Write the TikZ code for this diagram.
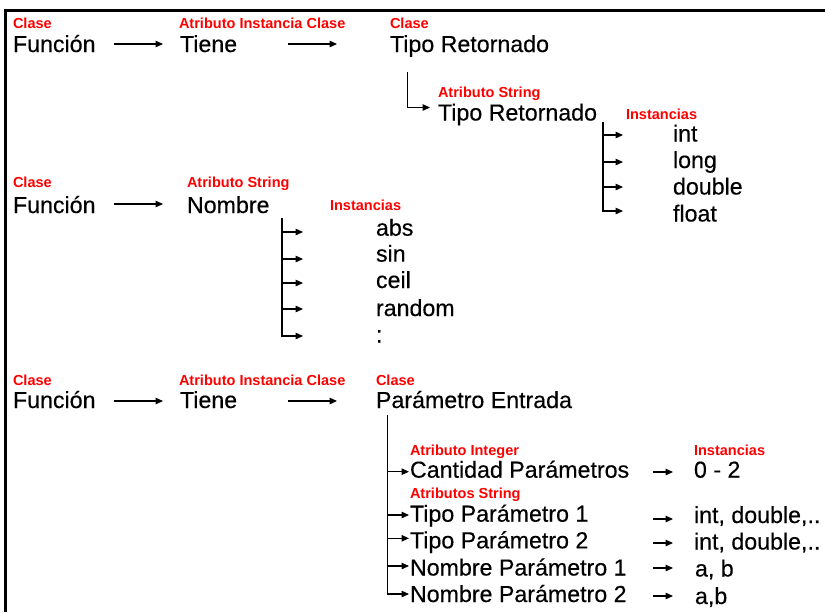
\documentclass[tikz,border=0pt]{standalone}
\usepackage{fontspec}
\setmainfont{Liberation Sans}
\newfontfamily\heavyfont[FakeBold=0.35]{Liberation Sans}
\usetikzlibrary{arrows.meta,calc}
\begin{document}
\begin{tikzpicture}[x=0.75pt,y=-0.75pt,
 lbl/.style={anchor=base west,inner sep=0,outer sep=0,text=red,font=\fontsize{10.9}{12}\selectfont\bfseries},
 txt/.style={anchor=base west,inner sep=0,outer sep=0,font=\heavyfont\fontsize{17.4}{20}\selectfont},
 arr/.style={line width=0.85pt,-{Triangle[length=5.5pt,width=4.8pt]}},
 frame/.style={line width=2pt}]
\useasboundingbox (0,0) rectangle (825,612);
\draw[frame] (825,10.3) -- (5.3,10.3) -- (5.3,612);

% ---------- Row 1
\node[lbl] (c1) at (13,28) {Clase};
\node[txt] (f1) at (13,52) {Función};
\node[lbl] (a1) at (179,28) {Atributo Instancia Clase};
\node[txt] (t1) at (180,52) {Tiene};
\node[lbl] (c2) at (390,28) {Clase};
\node[txt] (tr1) at (390,52) {Tipo Retornado};
\node[lbl] (as1) at (438,97) {Atributo String};
\node[txt] (tr2) at (438,120.5) {Tipo Retornado};
\node[lbl] (in1) at (626,119) {Instancias};
\node[txt] (i1) at (673,141.5) {int};
\node[txt] (i2) at (673,168) {long};
\node[txt] (i3) at (673,194.5) {double};
\node[txt] (i4) at (673,221.5) {float};

\draw[arr] ($(f1.base west)+(101,-8)$) -- ($(t1.base west)+(-17,-8)$);
\draw[arr] ($(t1.base west)+(108,-8)$) -- ($(tr1.base west)+(-53,-8)$);
\draw[arr] ($(tr1.base west)+(17.5,20)$) |- ($(tr2.base west)+(-8,-13)$);
\coordinate (k1) at ($(tr2.base west)+(165,1.5)$);
\draw[arr] (k1) |- ($(i1.base west)+(-50,-6.5)$);
\draw[arr] (k1) |- ($(i2.base west)+(-50,-6)$);
\draw[arr] (k1) |- ($(i3.base west)+(-50,-7.5)$);
\draw[arr] (k1) |- ($(i4.base west)+(-50,-10.5)$);

% ---------- Row 2
\node[lbl] (c3) at (13,187) {Clase};
\node[txt] (f2) at (13,213) {Función};
\node[lbl] (as2) at (187,187) {Atributo String};
\node[txt] (nom) at (187,213) {Nombre};
\node[lbl] (in2) at (330,210.5) {Instancias};
\node[txt] (n1) at (376,235.7) {abs};
\node[txt] (n2) at (376,261.7) {sin};
\node[txt] (n3) at (376,288) {ceil};
\node[txt] (n4) at (376,316) {random};
\node[txt] (n5) at (376,342.5) {:};

\draw[arr] ($(f2.base west)+(101,-9)$) -- ($(nom.base west)+(-24,-9)$);
\coordinate (k2) at ($(nom.base west)+(95,5)$);
\draw[arr] (k2) |- ($(n1.base west)+(-73,-3.7)$);
\draw[arr] (k2) |- ($(n2.base west)+(-73,-2.7)$);
\draw[arr] (k2) |- ($(n3.base west)+(-73,-5)$);
\draw[arr] (k2) |- ($(n4.base west)+(-73,-7)$);
\draw[arr] (k2) |- ($(n5.base west)+(-73,-6.5)$);

% ---------- Row 3
\node[lbl] (c4) at (13,385) {Clase};
\node[txt] (f3) at (13,408) {Función};
\node[lbl] (a3) at (179,385) {Atributo Instancia Clase};
\node[txt] (t3) at (180,408) {Tiene};
\node[lbl] (c5) at (376,385) {Clase};
\node[txt] (pe) at (376,408) {Parámetro Entrada};

\draw[arr] ($(f3.base west)+(101,-7)$) -- ($(t3.base west)+(-17,-7)$);
\draw[arr] ($(t3.base west)+(108,-7)$) -- ($(pe.base west)+(-39,-7)$);

\node[lbl] (ai) at (410,455) {Atributo Integer};
\node[txt] (cp) at (410,477.7) {Cantidad Parámetros};
\node[lbl] (ast) at (410,498) {Atributos String};
\node[txt] (p1) at (410,521.7) {Tipo Parámetro 1};
\node[txt] (p2) at (410,548.3) {Tipo Parámetro 2};
\node[txt] (p3) at (410,575.5) {Nombre Parámetro 1};
\node[txt] (p4) at (410,602) {Nombre Parámetro 2};

\coordinate (k3) at ($(pe.base west)+(11.5,7)$);
\draw[arr] (k3) |- ($(cp.base west)+(-1,-6)$);
\draw[arr] (k3) |- ($(p1.base west)+(-1,-6.7)$);
\draw[arr] (k3) |- ($(p2.base west)+(-1,-10)$);
\draw[arr] (k3) |- ($(p3.base west)+(-1,-9.5)$);
\draw[arr] (k3) |- ($(p4.base west)+(-1,-8)$);

\node[lbl] (in3) at (694,455) {Instancias};
\node[txt] (v1) at (694,477.7) {0 - 2};
\node[txt] (v2) at (694,523) {int, double,..};
\node[txt] (v3) at (694,549.5) {int, double,..};
\node[txt] (v4) at (695,576.5) {a, b};
\node[txt] (v5) at (695,604) {a,b};

\draw[arr] ($(v1.base west)+(-41,-5.7)$) -- ($(v1.base west)+(-21,-5.7)$);
\draw[arr] ($(v2.base west)+(-41,-4)$) -- ($(v2.base west)+(-21,-4)$);
\draw[arr] ($(v3.base west)+(-41,-6.5)$) -- ($(v3.base west)+(-21,-6.5)$);
\draw[arr] ($(v4.base west)+(-42,-8.5)$) -- ($(v4.base west)+(-22,-8.5)$);
\draw[arr] ($(v5.base west)+(-42,-8)$) -- ($(v5.base west)+(-22,-8)$);
\end{tikzpicture}
\end{document}
